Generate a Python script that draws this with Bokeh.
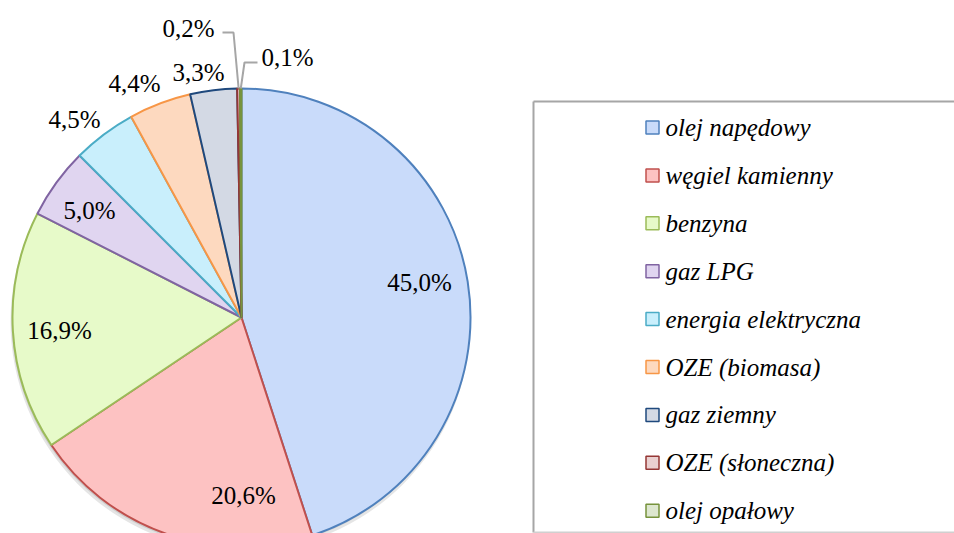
import math
from bokeh.plotting import figure
from bokeh.models import Range1d
from bokeh.core.properties import value
from bokeh.embed import file_html
from bokeh.resources import INLINE

# ---- data ----
categories = ["olej napędowy", "węgiel kamienny", "benzyna", "gaz LPG",
              "energia elektryczna", "OZE (biomasa)", "gaz ziemny",
              "OZE (słoneczna)", "olej opałowy"]
shares = [45.0, 20.6, 16.9, 5.0, 4.5, 4.4, 3.3, 0.2, 0.1]
labels = ["45,0%", "20,6%", "16,9%", "5,0%", "4,5%", "4,4%", "3,3%", "0,2%", "0,1%"]

# ---- styles ----
fills = ["#c9dbfa", "#fdc2c2", "#e7fac9", "#e0d5f0", "#c9effc",
         "#fdd9bf", "#d3d9e4", "#ead0d0", "#dde7cf"]
borders = ["#4f81bd", "#c0504d", "#9bbb59", "#8064a2", "#4bacc6",
           "#f79646", "#1f497d", "#953735", "#77933c"]

W, H = 954, 533
TOP = H

def Y(py):  # page pixel y -> data y
    return TOP - py

CX, CY, R = 241, 317, 229
# label offsets from pie centre (page px, y downwards)
label_dx = [178, 2, -182, -152, -167, -107, -43, -53, 46]
label_dy = [-35, 178, 13, -107, -198, -234, -245, -289, -260]
# leader-line elbows (page px offsets from centre) for tiny slices
leader_idx = [7, 8]
leader_elbow = {7: [(-19, -285), (-8, -285)], 8: [(16, -255), (3, -255)]}

p = figure(width=W, height=H, output_backend="svg", toolbar_location=None,
           x_range=Range1d(0, W), y_range=Range1d(0, H),
           x_axis_type=None, y_axis_type=None, min_border=0,
           outline_line_color=None, background_fill_color="white",
           border_fill_color="white")
p.grid.visible = False

# shadow
p.circle(x=[CX - 1], y=[Y(CY + 4)], radius=230, radius_units="screen",
         fill_color="#000000", fill_alpha=0.10, line_color=None)
p.circle(x=[CX - 1], y=[Y(CY + 2)], radius=229, radius_units="screen",
         fill_color="#000000", fill_alpha=0.10, line_color=None)

total = sum(shares)
starts, ends, mids = [], [], []
cum = 0.0
for s in shares:
    a0 = math.pi / 2 - 2 * math.pi * cum / total
    cum += s
    a1 = math.pi / 2 - 2 * math.pi * cum / total
    starts.append(a0)
    ends.append(a1)
    mids.append((a0 + a1) / 2)

p.wedge(x=[CX] * len(shares), y=[Y(CY)] * len(shares), radius=R,
        radius_units="screen", start_angle=starts, end_angle=ends,
        direction="clock", fill_color=fills, line_color=borders, line_width=2)

# leader lines
xs, ys = [], []
for i in leader_idx:
    ex = CX + R * math.cos(mids[i])
    ey = Y(CY) + R * math.sin(mids[i])
    pts = leader_elbow[i]
    xs.append([CX + pts[0][0], CX + pts[1][0], ex])
    ys.append([Y(CY + pts[0][1]), Y(CY + pts[1][1]), ey])
p.multi_line(xs=xs, ys=ys, line_color="#a6a6a6", line_width=2)

# data labels
p.text(x=[CX + dx for dx in label_dx], y=[Y(CY + dy) for dy in label_dy],
       text=labels, text_font=value("Liberation Serif"), text_font_size="25px",
       text_align="center", text_baseline="middle", text_color="#000000")

# legend box (runs off the right edge): separate sides
LX0, LY0, LY1 = 533, 101, 532
p.segment(x0=[LX0, LX0, LX0], y0=[Y(LY0), Y(LY0), Y(LY1)],
          x1=[W + 10, LX0, W + 10], y1=[Y(LY0), Y(LY1), Y(LY1)],
          line_color=["#a6a6a6", "#a6a6a6", "#d0d0d0"], line_width=2)

leg_y0, leg_step = 127, 47.9
ly = [Y(leg_y0 + leg_step * i) for i in range(len(categories))]
p.scatter(x=[652] * len(categories), y=ly, marker="square", size=13,
          fill_color=fills, line_color=borders, line_width=1.5)
p.text(x=[665] * len(categories), y=ly, text=categories,
       text_font=value("Liberation Serif"), text_font_size="25px",
       text_font_style="italic", text_align="left", text_baseline="middle",
       text_color="#000000")

open("out.html", "w").write(file_html(p, INLINE))
